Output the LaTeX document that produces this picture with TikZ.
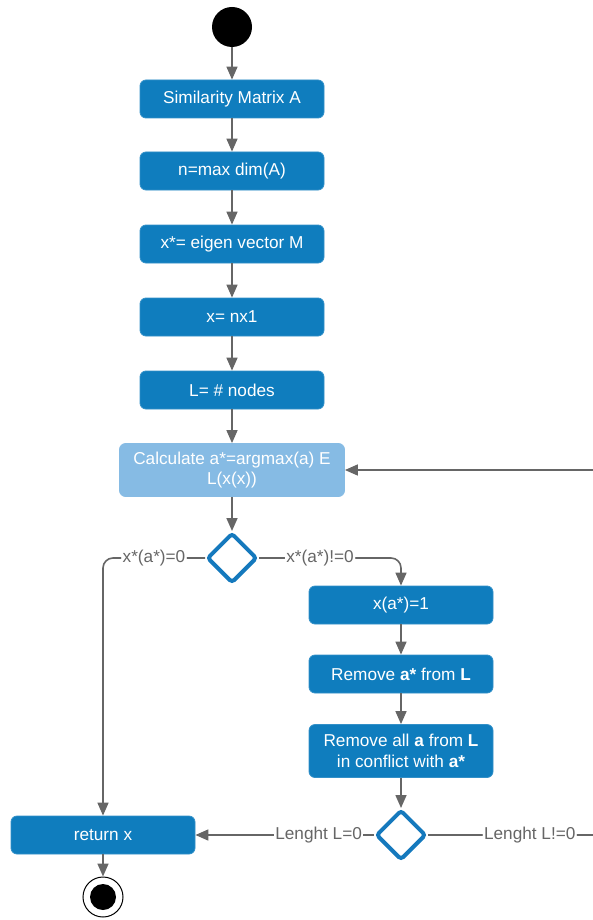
\documentclass[tikz,border=0pt]{standalone}
\usepackage{fontspec}
\setmainfont{Liberation Sans}
\usetikzlibrary{arrows.meta,shapes.geometric}
\definecolor{boxblue}{HTML}{0F7DBE}
\definecolor{lightblue}{HTML}{86BBE4}
\definecolor{dia}{HTML}{1579BD}
\definecolor{linegray}{HTML}{666666}
\begin{document}
\begin{tikzpicture}[x=1pt,y=-1pt,
  box/.style={rectangle, rounded corners=6pt, fill=boxblue, draw=boxblue!85!white, line width=0.8pt,
    minimum width=184pt, minimum height=38pt, text=white,
    font=\fontsize{17.2}{20.5}\selectfont, align=center, inner sep=0pt},
  conn/.style={draw=linegray, line width=1.6pt, -{Triangle[length=13pt,width=11pt]}},
  decision/.style={diamond, draw=dia, line width=4pt, fill=white, minimum width=50pt,
    minimum height=50pt, rounded corners=3pt, inner sep=0pt},
  lbl/.style={fill=white, text=linegray, font=\fontsize{17.2}{20.5}\selectfont, inner sep=1.5pt}]
\useasboundingbox (0,0) rectangle (593,920);
\clip (0,0) rectangle (593,920);

\node[circle, fill=black, minimum size=40pt, inner sep=0pt] (start) at (232,27) {};
\node[box] (sim) at (232,99) {Similarity Matrix A};
\node[box] (n) at (232,171) {n=max dim(A)};
\node[box] (eig) at (232,244) {x*= eigen vector M};
\node[box] (x) at (232,317) {x= nx1};
\node[box] (L) at (232,390) {L= \# nodes};
\node[box, fill=lightblue, draw=lightblue, minimum width=225pt, minimum height=53pt] (calc) at (232,470) {Calculate a*=argmax(a) E\\L(x(x))};
\node[decision] (d1) at (232,558) {};
\node[box] (set) at (401,605) {x(a*)=1};
\node[box] (rem) at (401,674) {Remove \textbf{a*} from \textbf{L}};
\node[box, minimum height=53pt] (remall) at (401,751) {Remove all \textbf{a} from \textbf{L}\\in conflict with \textbf{a*}};
\node[decision] (d2) at (401,835) {};
\node[box, minimum width=184pt] (ret) at (103,835) {return x};
\node[circle, draw=black, line width=1pt, fill=white, minimum size=40pt, inner sep=0pt] (end) at (103,897) {};
\node[circle, fill=black, minimum size=26pt, inner sep=0pt] (endin) at (end.center) {};

\coordinate (c1) at (103,558);
\coordinate (c2) at (401,558);
\coordinate (r1) at (620,835);
\coordinate (r2) at (620,470);

\draw[conn] (start) -- (sim);
\draw[conn] (sim) -- (n);
\draw[conn] (n) -- (eig);
\draw[conn] (eig) -- (x);
\draw[conn] (x) -- (L);
\draw[conn] (L) -- (calc);
\draw[conn] (calc) -- (d1.north);
\draw[conn, rounded corners=10pt] (d1.west) -- node[lbl, pos=0.5] {x*(a*)=0} (c1) -- (ret.north);
\draw[conn, rounded corners=10pt] (d1.east) -- node[lbl, pos=0.43] {x*(a*)!=0} (c2) -- (set.north);
\draw[conn] (set) -- (rem);
\draw[conn] (rem) -- (remall);
\draw[conn] (remall) -- (d2.north);
\draw[conn] (d2.west) -- node[lbl, pos=0.31] {Lenght L=0} (ret.east);
\draw[conn, rounded corners=10pt] (d2.east) -- node[lbl, pos=0.53] {Lenght L!=0} (r1) -- (r2) -- (calc.east);
\draw[conn] (ret) -- (end);
\end{tikzpicture}
\end{document}
